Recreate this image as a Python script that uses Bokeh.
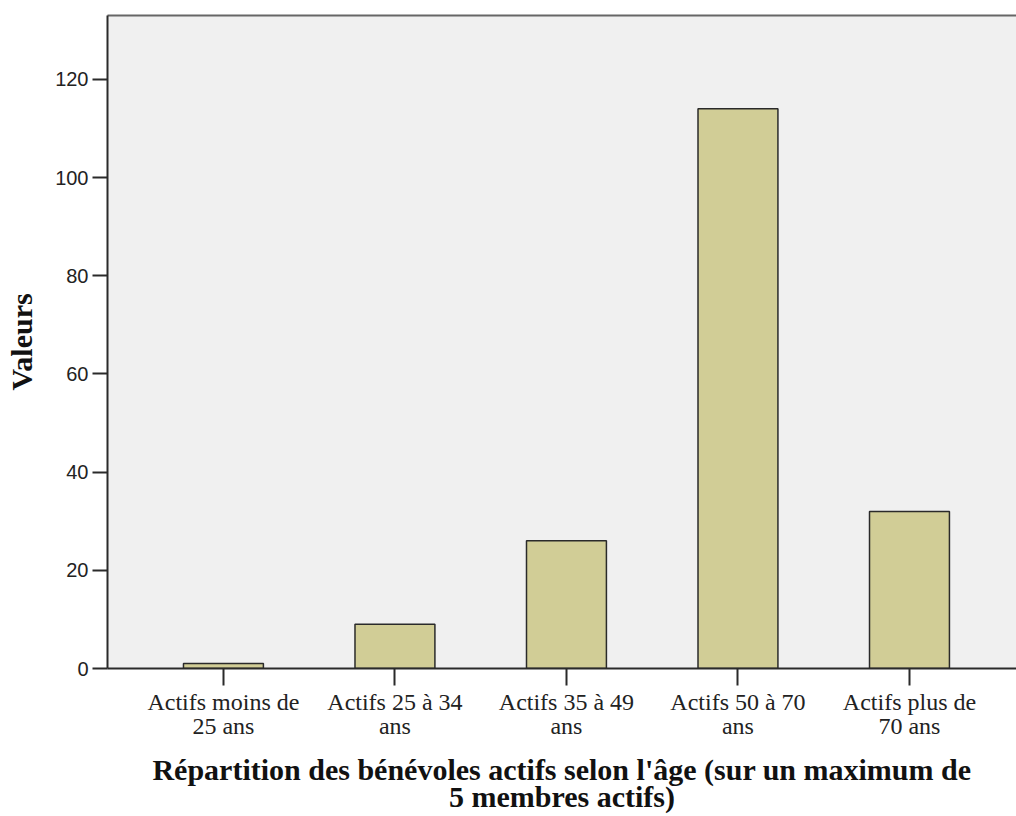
from bokeh.plotting import figure
from bokeh.models import Range1d, FixedTicker, LinearAxis, ColumnDataSource
from bokeh.embed import file_html
from bokeh.resources import INLINE

categories = ["Actifs moins de\n25 ans", "Actifs 25 à 34\nans", "Actifs 35 à 49\nans",
              "Actifs 50 à 70\nans", "Actifs plus de\n70 ans"]
values = [1, 9, 26, 114, 32]
y_ticks = [0, 20, 40, 60, 80, 100, 120]
x_title = "Répartition des bénévoles actifs selon l'âge (sur un maximum de\n5 membres actifs)"
y_title = "Valeurs"

idx = list(range(len(categories)))
src = ColumnDataSource(dict(x=idx, top=values))

p = figure(width=1016, height=816, output_backend="svg", toolbar_location=None,
           x_range=Range1d(-0.676, 4.624), y_range=Range1d(0, 133),
           min_border_left=107, min_border_top=15, min_border_right=0, min_border_bottom=0)
p.background_fill_color = "#f0f0f0"
p.border_fill_color = "white"
p.outline_line_color = None
p.xgrid.visible = False
p.ygrid.visible = False

p.vbar(x="x", top="top", bottom=0, width=0.466, source=src,
       fill_color="#d1cd96", line_color="#2a2a2a", line_width=1.5)

# x axis
xa = p.xaxis[0]
xa.ticker = FixedTicker(ticks=idx)
xa.major_label_overrides = {i: c for i, c in zip(idx, categories)}
xa.major_tick_out = 17
xa.major_tick_in = 0
xa.minor_tick_line_color = None
xa.axis_line_color = "#2a2a2a"
xa.axis_line_width = 2
xa.major_tick_line_color = "#2a2a2a"
xa.major_tick_line_width = 2
xa.major_label_text_font = "Liberation Serif"
xa.major_label_text_font_size = "24px"
xa.major_label_text_color = "#222222"
xa.major_label_text_line_height = 0.94
xa.major_label_standoff = 3
xa.axis_label = x_title
xa.axis_label_text_font = "Liberation Serif"
xa.axis_label_text_font_style = "bold"
xa.axis_label_text_font_size = "30px"
xa.axis_label_text_color = "#111111"
xa.axis_label_text_line_height = 0.83
xa.axis_label_standoff = 11

# y axis
ya = p.yaxis[0]
ya.ticker = FixedTicker(ticks=y_ticks)
ya.major_tick_out = 15
ya.major_tick_in = 0
ya.minor_tick_line_color = None
ya.axis_line_color = "#2a2a2a"
ya.axis_line_width = 2
ya.major_tick_line_color = "#2a2a2a"
ya.major_tick_line_width = 2
ya.major_label_text_font = "Liberation Sans"
ya.major_label_text_font_size = "20px"
ya.major_label_text_color = "#222222"
ya.major_label_standoff = 4
ya.axis_label = y_title
ya.axis_label_text_font = "Liberation Serif"
ya.axis_label_text_font_style = "bold"
ya.axis_label_text_font_size = "30px"
ya.axis_label_text_color = "#111111"
ya.axis_label_standoff = 14

# top border line
top_axis = LinearAxis(ticker=FixedTicker(ticks=[]), axis_line_color="#666666", axis_line_width=2,
                      major_tick_line_color=None, minor_tick_line_color=None,
                      major_label_text_font_size="0px")
p.add_layout(top_axis, "above")

open("out.html", "w").write(file_html(p, INLINE))
